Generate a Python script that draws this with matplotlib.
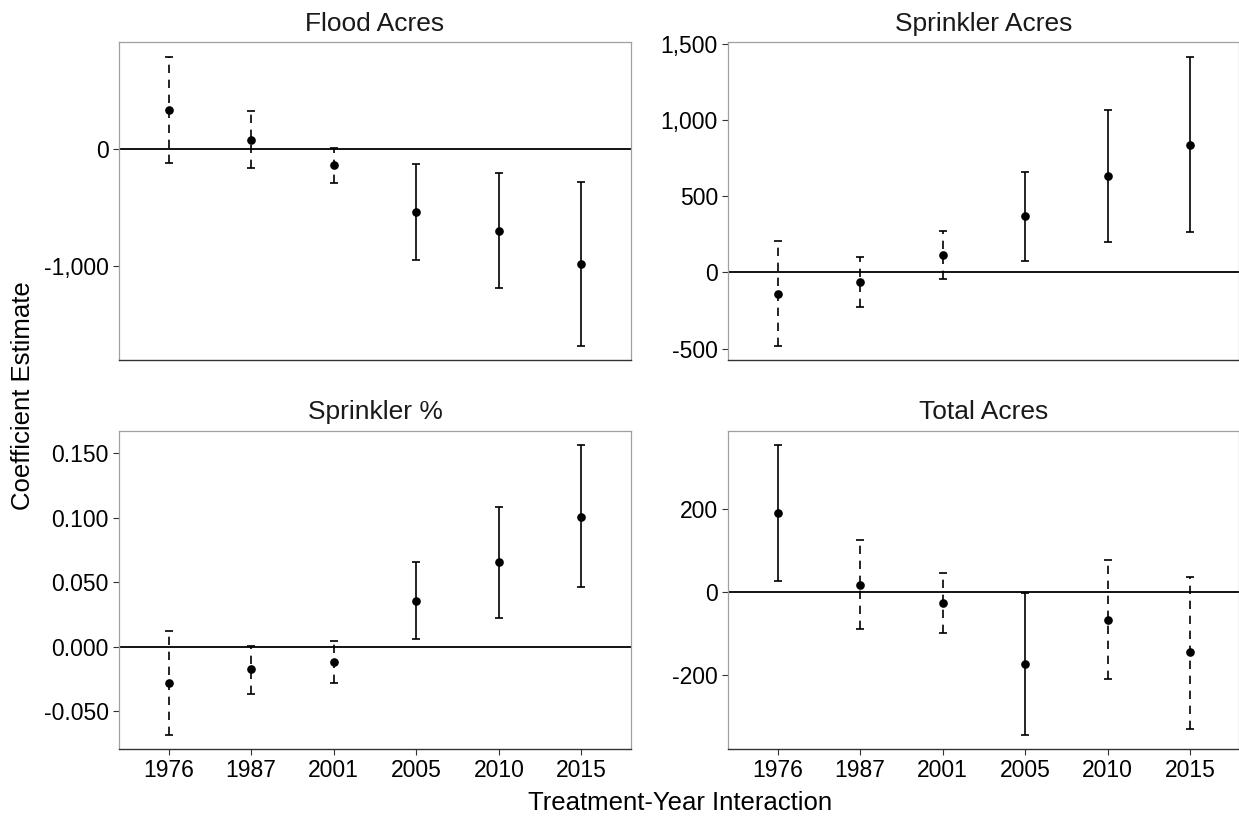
import matplotlib
matplotlib.use("Agg")
import matplotlib.pyplot as plt
from matplotlib.ticker import FuncFormatter

plt.rcParams["font.family"] = ["Liberation Sans", "DejaVu Sans"]

years = ["1976", "1987", "2001", "2005", "2010", "2015"]

# Flood Acres
flood_est = [325, 76, -140, -542, -698, -983]
flood_lo = [-123, -164, -292, -949, -1186, -1677]
flood_hi = [781, 320, 8, -136, -212, -288]

# Sprinkler Acres
sprk_est = [-139, -63, 115, 368, 632, 837]
sprk_lo = [-479, -227, -41, 78, 200, 266]
sprk_hi = [205, 102, 270, 658, 1063, 1414]

# Sprinkler %
pct_est = [-0.0284, -0.0175, -0.0119, 0.0356, 0.0655, 0.1008]
pct_lo = [-0.0680, -0.0366, -0.0284, 0.0064, 0.0224, 0.0461]
pct_hi = [0.0119, 0.0008, 0.0046, 0.0655, 0.1085, 0.1562]

# Total Acres
total_est = [189, 16, -26, -172, -67, -145]
total_lo = [27, -90, -98, -342, -209, -329]
total_hi = [352, 125, 46, -2, 76, 36]

panels = [
    ("Flood Acres", flood_est, flood_lo, flood_hi, [-1000, 0], "{:,.0f}"),
    ("Sprinkler Acres", sprk_est, sprk_lo, sprk_hi, [-500, 0, 500, 1000, 1500], "{:,.0f}"),
    ("Sprinkler %", pct_est, pct_lo, pct_hi, [-0.05, 0.0, 0.05, 0.10, 0.15], "{:.3f}"),
    ("Total Acres", total_est, total_lo, total_hi, [-200, 0, 200], "{:,.0f}"),
]

W, H = 1239, 823
fig = plt.figure(figsize=(W / 100, H / 100), dpi=100)

# panel boxes in pixels: (left, top, right, bottom)
boxes = [
    (119, 42.3, 631, 360),
    (728, 42.3, 1239.5, 360),
    (119, 430.7, 631, 749),
    (728, 430.7, 1239.5, 749),
]

for i, (title, est, lo, hi, ticks, fmt) in enumerate(panels):
    l, t, r, b = boxes[i]
    ax = fig.add_axes([l / W, 1 - b / H, (r - l) / W, (b - t) / H])
    ax.axhline(0, color="black", lw=1.3, zorder=1)
    for j in range(len(years)):
        eb = ax.errorbar(j, est[j], yerr=[[est[j] - lo[j]], [hi[j] - est[j]]],
                         fmt="o", color="black", ms=5.2, elinewidth=1.2,
                         capsize=2.6, capthick=1.2, zorder=3)
        if lo[j] < 0 < hi[j]:
            eb[2][0].set_linestyle((0, (5, 4)))
    span = max(hi) - min(lo)
    ax.set_ylim(min(lo) - 0.05 * span, max(hi) + 0.05 * span)
    ax.set_xlim(-0.6, len(years) - 0.4)
    ax.set_yticks(ticks)
    ax.yaxis.set_major_formatter(FuncFormatter(lambda v, p, f=fmt: f.format(v)))
    ax.set_xticks(range(len(years)))
    if i >= 2:
        ax.set_xticklabels(years)
        ax.tick_params(axis="x", length=4.2, width=0.8, color="#333333",
                       labelsize=16.5, pad=3, labelcolor="black")
    else:
        ax.tick_params(axis="x", length=0, labelbottom=False)
    ax.tick_params(axis="y", length=4.2, width=0.8, color="#333333",
                   labelsize=16.5, pad=3, labelcolor="black")
    for s in ["top", "left", "right"]:
        ax.spines[s].set_color("#a0a0a0")
        ax.spines[s].set_linewidth(0.9)
    ax.spines["bottom"].set_color("#333333")
    ax.spines["bottom"].set_linewidth(1.0)
    ax.set_title(title, fontsize=19, pad=8.4, color="#1a1a1a")

fig.text(23 / W, 1 - 395.7 / H, "Coefficient Estimate", rotation=90,
         ha="center", va="center", fontsize=18.5)
fig.text(680 / W, 1 - 809.5 / H, "Treatment-Year Interaction",
         ha="center", va="baseline", fontsize=18.5)

fig.savefig("out.png", dpi=100)
